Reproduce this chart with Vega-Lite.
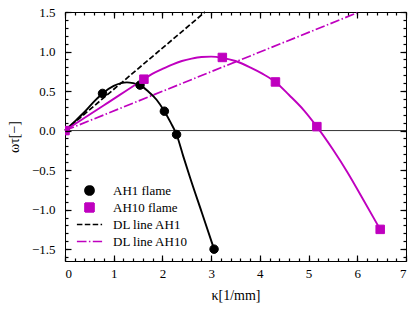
{
  "$schema": "https://vega.github.io/schema/vega-lite/v6.json",
  "width": 341,
  "height": 249,
  "autosize": "none",
  "padding": {"left": 65, "top": 12, "right": 10, "bottom": 50},
  "background": "white",
  "config": {
    "font": "Liberation Serif",
    "view": {"stroke": "black", "strokeWidth": 1},
    "axis": {"grid": false, "domain": false, "ticks": true, "tickColor": "black", "tickWidth": 1.2, "labelColor": "black", "titleColor": "black", "labelFont": "Liberation Serif", "titleFont": "Liberation Serif", "labelFontSize": 13, "titleFontSize": 14, "titleFontWeight": "normal"},
    "legend": {"labelFont": "Liberation Serif", "labelFontSize": 13, "labelColor": "black"}
  },
  "datasets": {
    "black": [
      {"k": 0, "w": 0}, {"k": 0.2, "w": 0.115}, {"k": 0.4, "w": 0.235}, {"k": 0.6, "w": 0.37},
      {"k": 0.77, "w": 0.47}, {"k": 1.0, "w": 0.565}, {"k": 1.15, "w": 0.6}, {"k": 1.27, "w": 0.61},
      {"k": 1.4, "w": 0.6}, {"k": 1.54, "w": 0.575}, {"k": 1.7, "w": 0.5}, {"k": 1.88, "w": 0.39},
      {"k": 2.04, "w": 0.245}, {"k": 2.17, "w": 0.1}, {"k": 2.29, "w": -0.05}, {"k": 2.43, "w": -0.33},
      {"k": 2.57, "w": -0.6}, {"k": 2.81, "w": -1.04}, {"k": 3.06, "w": -1.5}
    ],
    "mag": [
      {"k": 0, "w": 0}, {"k": 0.8, "w": 0.32}, {"k": 1.62, "w": 0.65}, {"k": 1.8, "w": 0.72},
      {"k": 2.0, "w": 0.78}, {"k": 2.2, "w": 0.835}, {"k": 2.4, "w": 0.88}, {"k": 2.6, "w": 0.91},
      {"k": 2.8, "w": 0.93}, {"k": 3.0, "w": 0.935}, {"k": 3.23, "w": 0.92}, {"k": 3.5, "w": 0.88},
      {"k": 3.8, "w": 0.8}, {"k": 4.05, "w": 0.72}, {"k": 4.32, "w": 0.615}, {"k": 4.6, "w": 0.45},
      {"k": 4.9, "w": 0.26}, {"k": 5.17, "w": 0.05}, {"k": 5.5, "w": -0.24}, {"k": 5.8, "w": -0.53},
      {"k": 6.1, "w": -0.85}, {"k": 6.47, "w": -1.25}
    ],
    "dl": [
      {"k": 0, "w": 0, "s": "DL line AH1"}, {"k": 2.875, "w": 1.5, "s": "DL line AH1"},
      {"k": 0, "w": 0, "s": "DL line AH10"}, {"k": 6.04, "w": 1.5, "s": "DL line AH10"}
    ],
    "pts": [
      {"k": 0, "w": 0, "s": "AH1 flame"}, {"k": 0.77, "w": 0.47, "s": "AH1 flame"},
      {"k": 1.54, "w": 0.575, "s": "AH1 flame"}, {"k": 2.04, "w": 0.245, "s": "AH1 flame"},
      {"k": 2.29, "w": -0.05, "s": "AH1 flame"}, {"k": 3.06, "w": -1.5, "s": "AH1 flame"},
      {"k": 0, "w": 0, "s": "AH10 flame"}, {"k": 1.62, "w": 0.65, "s": "AH10 flame"},
      {"k": 3.23, "w": 0.925, "s": "AH10 flame"}, {"k": 4.32, "w": 0.615, "s": "AH10 flame"},
      {"k": 5.17, "w": 0.05, "s": "AH10 flame"}, {"k": 6.47, "w": -1.25, "s": "AH10 flame"}
    ],
    "zero": [{"w": 0}]
  },
  "resolve": {"axis": {"x": "independent", "y": "independent"}},
  "layer": [
    {
      "data": {"name": "zero"},
      "mark": {"type": "rule", "color": "#333333", "strokeWidth": 1},
      "encoding": {
        "y": {"field": "w", "type": "quantitative", "scale": {"domain": [-1.65, 1.5], "nice": false, "zero": false}, "axis": null}
      }
    },
    {
      "data": {"name": "dl"},
      "mark": {"type": "line", "strokeWidth": 1.7},
      "encoding": {
        "x": {"field": "k", "type": "quantitative", "scale": {"domain": [0, 7], "nice": false}, "axis": {"orient": "top", "values": [0, 1, 2, 3, 4, 5, 6, 7], "labels": false, "tickSize": -6, "zindex": 2, "title": null}},
        "y": {"field": "w", "type": "quantitative", "scale": {"domain": [-1.65, 1.5], "nice": false, "zero": false}, "axis": {"orient": "right", "values": [-1.5, -1, -0.5, 0, 0.5, 1, 1.5], "labels": false, "tickSize": -6, "zindex": 2, "title": null}},
        "stroke": {"field": "s", "type": "nominal", "scale": {"domain": ["AH1 flame", "AH10 flame", "DL line AH1", "DL line AH10"], "range": ["black", "#bf00bf", "black", "#bf00bf"]}, "legend": {"orient": "none", "legendX": 18, "legendY": 172, "title": null, "symbolStrokeWidth": 1.7, "symbolSize": 81, "rowPadding": 0, "gridAlign": "all", "labelOffset": 17}},
        "strokeDash": {"field": "s", "type": "nominal", "scale": {"domain": ["AH1 flame", "AH10 flame", "DL line AH1", "DL line AH10"], "range": [[1, 0], [1, 0], [5.5, 2.4], [9.6, 2.4, 1.5, 2.4]]}}
      }
    },
    {
      "data": {"name": "black"},
      "mark": {"type": "line", "color": "black", "strokeWidth": 1.9, "interpolate": "monotone"},
      "encoding": {
        "x": {"field": "k", "type": "quantitative", "scale": {"domain": [0, 7], "nice": false}, "axis": {"orient": "bottom", "values": [0, 1, 2, 3, 4, 5, 6, 7], "tickSize": -6, "zindex": 2, "labelPadding": 12, "title": "κ[1/mm]", "titlePadding": 8}},
        "y": {"field": "w", "type": "quantitative", "scale": {"domain": [-1.65, 1.5], "nice": false, "zero": false}, "axis": {"orient": "left", "values": [-1.5, -1, -0.5, 0, 0.5, 1, 1.5], "format": ".1f", "tickSize": -6, "zindex": 2, "labelPadding": 16, "title": "ωτ[−]", "titlePadding": 10}}
      }
    },
    {
      "data": {"name": "mag"},
      "mark": {"type": "line", "color": "#bf00bf", "strokeWidth": 1.9, "interpolate": "monotone"},
      "encoding": {
        "x": {"field": "k", "type": "quantitative", "scale": {"domain": [0, 7], "nice": false}, "axis": {"orient": "bottom", "values": [0, 0.2, 0.4, 0.6, 0.8, 1, 1.2, 1.4, 1.6, 1.8, 2, 2.2, 2.4, 2.6, 2.8, 3, 3.2, 3.4, 3.6, 3.8, 4, 4.2, 4.4, 4.6, 4.8, 5, 5.2, 5.4, 5.6, 5.8, 6, 6.2, 6.4, 6.6, 6.8, 7], "labels": false, "tickSize": -3, "zindex": 2, "title": null}},
        "y": {"field": "w", "type": "quantitative", "scale": {"domain": [-1.65, 1.5], "nice": false, "zero": false}, "axis": {"orient": "left", "values": [-1.6, -1.5, -1.4, -1.3, -1.2, -1.1, -1, -0.9, -0.8, -0.7, -0.6, -0.5, -0.4, -0.3, -0.2, -0.1, 0, 0.1, 0.2, 0.3, 0.4, 0.5, 0.6, 0.7, 0.8, 0.9, 1, 1.1, 1.2, 1.3, 1.4, 1.5], "labels": false, "tickSize": -3, "zindex": 2, "title": null}}
      }
    },
    {
      "data": {"name": "pts"},
      "mark": {"type": "point", "filled": true, "opacity": 1, "size": 72, "strokeWidth": 1, "clip": true},
      "encoding": {
        "x": {"field": "k", "type": "quantitative", "scale": {"domain": [0, 7], "nice": false}, "axis": {"orient": "top", "values": [0, 0.2, 0.4, 0.6, 0.8, 1, 1.2, 1.4, 1.6, 1.8, 2, 2.2, 2.4, 2.6, 2.8, 3, 3.2, 3.4, 3.6, 3.8, 4, 4.2, 4.4, 4.6, 4.8, 5, 5.2, 5.4, 5.6, 5.8, 6, 6.2, 6.4, 6.6, 6.8, 7], "labels": false, "tickSize": -3, "zindex": 2, "title": null}},
        "y": {"field": "w", "type": "quantitative", "scale": {"domain": [-1.65, 1.5], "nice": false, "zero": false}, "axis": {"orient": "right", "values": [-1.6, -1.5, -1.4, -1.3, -1.2, -1.1, -1, -0.9, -0.8, -0.7, -0.6, -0.5, -0.4, -0.3, -0.2, -0.1, 0, 0.1, 0.2, 0.3, 0.4, 0.5, 0.6, 0.7, 0.8, 0.9, 1, 1.1, 1.2, 1.3, 1.4, 1.5], "labels": false, "tickSize": -3, "zindex": 2, "title": null}},
        "fill": {"field": "s", "type": "nominal", "scale": {"domain": ["AH1 flame", "AH10 flame", "DL line AH1", "DL line AH10"], "range": ["black", "#bf00bf", "black", "#bf00bf"]}},
        "stroke": {"field": "s", "type": "nominal", "scale": {"domain": ["AH1 flame", "AH10 flame", "DL line AH1", "DL line AH10"], "range": ["black", "#bf00bf", "black", "#bf00bf"]}},
        "shape": {"field": "s", "type": "nominal", "scale": {"domain": ["AH1 flame", "AH10 flame", "DL line AH1", "DL line AH10"], "range": ["circle", "square", "M-2.8,0H2.8", "M-2.8,0H2.8"]}}
      }
    }
  ]
}
